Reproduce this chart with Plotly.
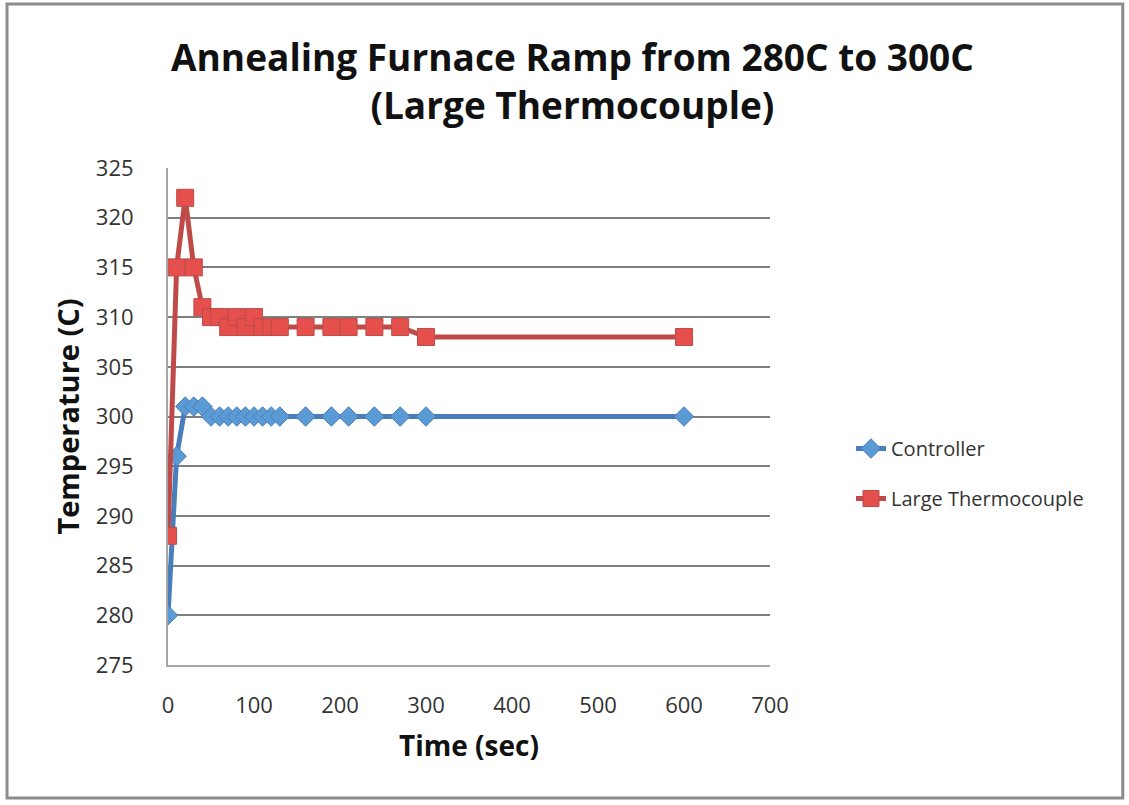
import plotly.graph_objects as go

# ---- data ----
time_sec = [0, 10, 20, 30, 40, 50, 60, 70, 80, 90, 100, 110, 120, 130,
            160, 190, 210, 240, 270, 300, 600]
controller = [280, 296, 301, 301, 301, 300, 300, 300, 300, 300, 300, 300, 300, 300,
              300, 300, 300, 300, 300, 300, 300]
large_tc = [288, 315, 322, 315, 311, 310, 310, 309, 310, 309, 310, 309, 309, 309,
            309, 309, 309, 309, 309, 308, 308]

x_ticks = [0, 100, 200, 300, 400, 500, 600, 700]
y_ticks = [275, 280, 285, 290, 295, 300, 305, 310, 315, 320, 325]

FONT = "Open Sans"

fig = go.Figure()
fig.add_trace(go.Scatter(
    x=time_sec, y=controller, name="Controller", mode="lines+markers",
    line=dict(color="#4A7EBB", width=5),
    marker=dict(symbol="diamond", size=15, color="#5B9BD5",
                line=dict(color="#4A7EBB", width=1)),
    legendgroup="a"))
fig.add_trace(go.Scatter(
    x=time_sec, y=large_tc, name="Large Thermocouple", mode="lines+markers",
    line=dict(color="#BE4B48", width=5),
    marker=dict(symbol="square", size=17, color="#E5504D",
                line=dict(color="#BE4B48", width=1)),
    legendgroup="b"))

# outer chart frame
fig.add_shape(type="rect", xref="paper", yref="paper",
              x0=-0.2674, x1=1.586, y0=-0.2676, y1=1.33,
              line=dict(color="#8c8c8c", width=3), layer="below")

fig.update_layout(
    width=1129, height=805,
    margin=dict(l=168, r=359, t=168, b=140),
    paper_bgcolor="white", plot_bgcolor="white",
    font=dict(family=FONT, color="#222222"),
    title=dict(text="<b>Annealing Furnace Ramp from 280C to 300C<br>(Large Thermocouple)</b>",
               x=0.507, xanchor="center", y=1 - 71 / 805, yanchor="middle",
               font=dict(size=37, family=FONT, color="#111111")),
    showlegend=True,
    legend=dict(xref="container", yref="container", x=851 / 1129, y=1 - 429 / 805,
                xanchor="left", yanchor="top", traceorder="grouped",
                tracegroupgap=21, font=dict(size=20, family=FONT, color="#333333"),
                bgcolor="rgba(0,0,0,0)"),
    xaxis=dict(range=[0, 700], tickvals=x_ticks, showgrid=False, zeroline=False,
               showline=True, linecolor="#a6a6a6", linewidth=2,
               ticks="", ticklabelstandoff=20,
               tickfont=dict(size=22, family=FONT, color="#333333"),
               title=dict(text="<b>Time (sec)</b>", standoff=18,
                          font=dict(size=28, family=FONT, color="#111111"))),
    yaxis=dict(range=[275, 325], tickvals=y_ticks, showgrid=True,
               gridcolor="#7f7f7f", gridwidth=1.5, zeroline=False,
               showline=True, linecolor="#a6a6a6", linewidth=2,
               ticks="", ticklabelstandoff=28,
               tickfont=dict(size=22, family=FONT, color="#333333"),
               title=dict(text="<b>Temperature (C)</b>", standoff=8,
                          font=dict(size=29, family=FONT, color="#111111"))),
)

fig.write_html("out.html")
